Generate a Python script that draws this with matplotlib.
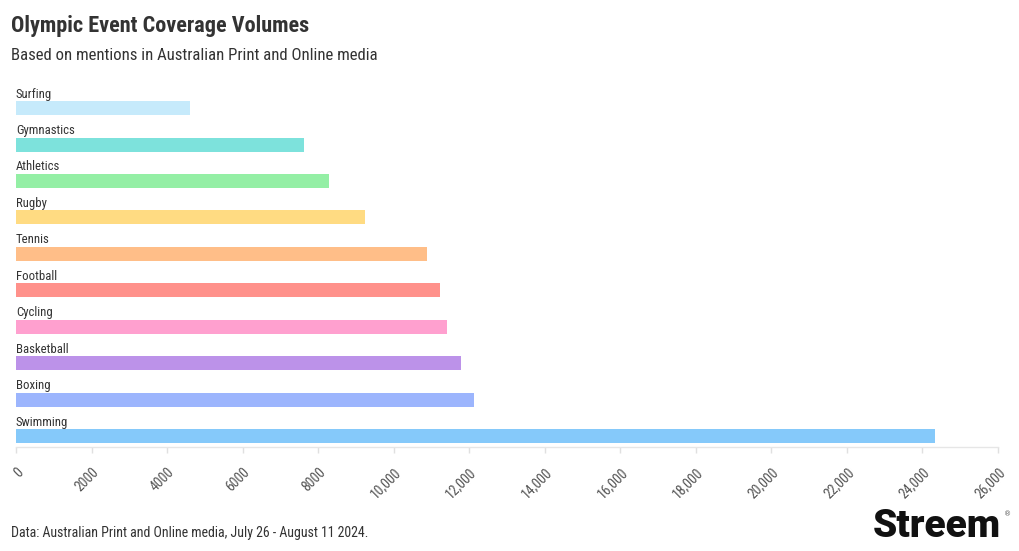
import matplotlib
matplotlib.use("Agg")
import matplotlib.pyplot as plt
from matplotlib import font_manager
from matplotlib.ticker import FuncFormatter

categories = ["Surfing", "Gymnastics", "Athletics", "Rugby", "Tennis",
              "Football", "Cycling", "Basketball", "Boxing", "Swimming"]
values = [4610, 7630, 8300, 9245, 10890, 11225, 11400, 11790, 12125, 24345]
colors = ["#c6eafb", "#7de2dc", "#94efa5", "#ffdb82", "#ffbe88",
          "#ff918b", "#ffa0cf", "#bc92e9", "#9cb5fd", "#85c9fa"]
xticks = list(range(0, 26001, 2000))

names = {f.name for f in font_manager.fontManager.ttflist}
condensed = "Roboto Condensed" in names
FAM = ["Roboto Condensed", "Roboto", "DejaVu Sans"] if condensed else ["Roboto", "DejaVu Sans"]
plt.rcParams["font.family"] = FAM

W, H = 1020, 551
fig = plt.figure(figsize=(W / 100, H / 100), dpi=100)
fig.patch.set_facecolor("white")

ax_left, ax_right = 16, 998
ax_top, ax_bottom = 79, 447
ax = fig.add_axes([ax_left / W, 1 - ax_bottom / H, (ax_right - ax_left) / W, (ax_bottom - ax_top) / H])

ypos = list(range(len(categories)))
ax.barh(ypos, values, height=0.385, color=colors, zorder=2)
ax.set_ylim(9.3, -0.8)
ax.set_xlim(0, 26000)

lab_size = 9.2 if condensed else 8.4
for y, name in zip(ypos, categories):
    ax.text(0, y - 0.29, name, ha="left", va="baseline", fontsize=lab_size, color="#333333")

for s in ["top", "right", "left"]:
    ax.spines[s].set_visible(False)
ax.spines["bottom"].set_color("#e6e6e6")
ax.spines["bottom"].set_linewidth(1)
ax.set_yticks([])
ax.set_xticks(xticks)
ax.xaxis.set_major_formatter(FuncFormatter(lambda v, p: f"{int(v):,}" if v >= 10000 else f"{int(v)}"))
ax.tick_params(axis="x", colors="#e0e0e0", length=4, width=1, labelcolor="#555555",
               labelsize=10 if condensed else 9, pad=9)
for lbl in ax.get_xticklabels():
    lbl.set_rotation(45)
    lbl.set_ha("right")
    lbl.set_va("top")
    lbl.set_rotation_mode("anchor")

# Titles
fig.text(11 / W, 1 - 32 / H, "Olympic Event Coverage Volumes", fontsize=16 if condensed else 13.6,
         fontweight="bold", color="#333333", ha="left", va="baseline")
fig.text(11 / W, 1 - 60 / H, "Based on mentions in Australian Print and Online media",
         fontsize=12.1 if condensed else 10.4, color="#333333", ha="left", va="baseline")
fig.text(11 / W, 1 - 537 / H, "Data: Australian Print and Online media, July 26 - August 11 2024.",
         fontsize=10.0 if condensed else 8.8, color="#333333", ha="left", va="baseline")

# Logo
fig.text(873 / W, 1 - 537 / H, "Streem", fontsize=28, fontweight="black",
         family=["Roboto", "DejaVu Sans"], color="#111111", ha="left", va="baseline")
fig.text(1004 / W, 1 - 516 / H, "®", fontsize=5, color="#555555", ha="left", va="baseline",
         family=["DejaVu Sans"])

fig.savefig("out.png", dpi=100, facecolor="white")
